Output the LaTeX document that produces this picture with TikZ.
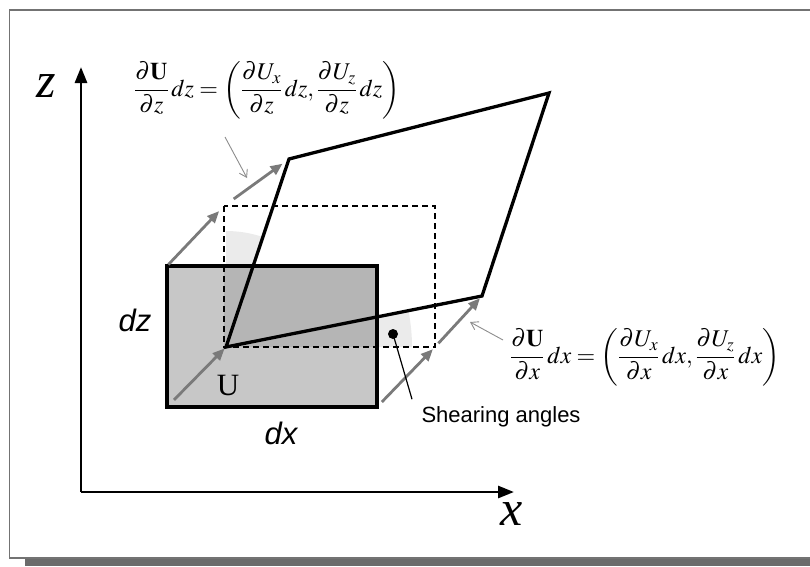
\documentclass[tikz,border=0pt]{standalone}
\usepackage{mathptmx}
\usepackage{fontspec}
\setmainfont{Liberation Serif}
\setsansfont{Liberation Sans}
\usetikzlibrary{arrows.meta, positioning, calc}

\begin{document}
\begin{tikzpicture}[
  x=1pt, y=-1pt,
  axis/.style={-{Triangle[length=16pt, width=12pt]}, line width=2.8pt},
  disp/.style={-{Triangle[length=12pt, width=10pt]}, line width=2.8pt, draw=black!52, fill=black!52},
  pointer/.style={-{Straight Barb[length=7pt, width=9pt]}, line width=0.9pt, draw=black!45},
  deformed/.style={line width=3.3pt, line join=miter},
  dashbox/.style={dash pattern=on 6pt off 4pt, line width=1.4pt},
  sans/.style={font=\sffamily\itshape\fontsize{31}{31}\selectfont},
  eqn/.style={font=\fontsize{24}{28}\selectfont, inner sep=0pt}
]
  \useasboundingbox (0,0) rectangle (810,566);

  % frame with its shadow
  \fill[black!58] (25,559) rectangle (812,566);
  \draw[black!55, line width=1.2pt] (9.5,10) rectangle (815,558);

  % explicit coordinates, in pixels of the figure (y downwards)
  \coordinate (O)  at (81,492);
  \coordinate (zt) at (81,67);
  \coordinate (xt) at (514,492);
  \coordinate (U)  at (226,347);
  \coordinate (A)  at (289,159);
  \coordinate (B)  at (549,93);
  \coordinate (C)  at (482,296);
  \coordinate (gsw) at (167,407);
  \coordinate (gse) at (377,407);
  \coordinate (gnw) at (167,266);
  \coordinate (dnw) at (224,206);
  \coordinate (dse) at (435,347);

  % shearing angles
  \fill[black!8] (U) -- ++(0,-116) arc[start angle=-90, end angle=-71.5, radius=116] -- cycle;
  \fill[black!8] (U) -- ++(186,0) arc[start angle=0, end angle=-11.2, radius=186] -- cycle;

  % element before and after the displacement
  \fill[black!22] (gnw) rectangle (gse);
  \fill[black!29] (224,266) rectangle (377,347);
  \draw[line width=3.3pt] (gnw) rectangle (gse);
  \draw[dashbox] (dnw) rectangle (dse);
  \draw[deformed] (U) -- (A) -- (B) -- (C) -- cycle;

  % axes
  \draw[axis] (O) -- (zt);
  \draw[axis] (O) -- (xt);
  \node[font=\itshape\fontsize{50}{50}\selectfont] (zlab) at (46,86) {z};
  \node[font=\itshape\fontsize{50}{50}\selectfont] (xlab) at (512,514) {x};

  % displacement vectors
  \draw[disp, shorten <=10pt, shorten >=2pt] (gsw) -- (U);
  \draw[disp, shorten <=7pt, shorten >=3pt] (gse) -- (dse);
  \draw[disp, shorten <=2pt, shorten >=7pt] (gnw) -- (dnw);
  \draw[disp, shorten <=12pt, shorten >=8pt] (dnw) -- (A);
  \draw[disp, shorten <=5pt, shorten >=3pt] (dse) -- (C);

  % labels
  \node[sans] (dz) at (135,320) {dz};
  \node[sans] (dx) at (281,433) {dx};
  \node[font=\fontsize{31}{31}\selectfont] (ulab) at (228,385) {U};

  \node[eqn] (fz) at (267,90)
    {$\displaystyle \frac{\partial\mathbf{U}}{\partial z}\,dz=\left(\frac{\partial U_x}{\partial z}\,dz,\frac{\partial U_z}{\partial z}\,dz\right)$};
  \node[eqn] (fx) at (645,357)
    {$\displaystyle \frac{\partial\mathbf{U}}{\partial x}\,dx=\left(\frac{\partial U_x}{\partial x}\,dx,\frac{\partial U_z}{\partial x}\,dx\right)$};

  \coordinate (pz1) at (225,137);
  \coordinate (pz2) at (247,178);
  \coordinate (px1) at (503,340);
  \coordinate (px2) at (470,322);
  \draw[pointer] (pz1) -- (pz2);
  \draw[pointer] (px1) -- (px2);

  \fill (393,334) circle (5) coordinate (sdot);
  \node[anchor=west, font=\sffamily\fontsize{22}{22}\selectfont] (shear) at (418,417) {Shearing angles};
  \draw[line width=1.2pt] (sdot) -- ($(shear.north west)+(-6,-4)$);
\end{tikzpicture}
\end{document}
